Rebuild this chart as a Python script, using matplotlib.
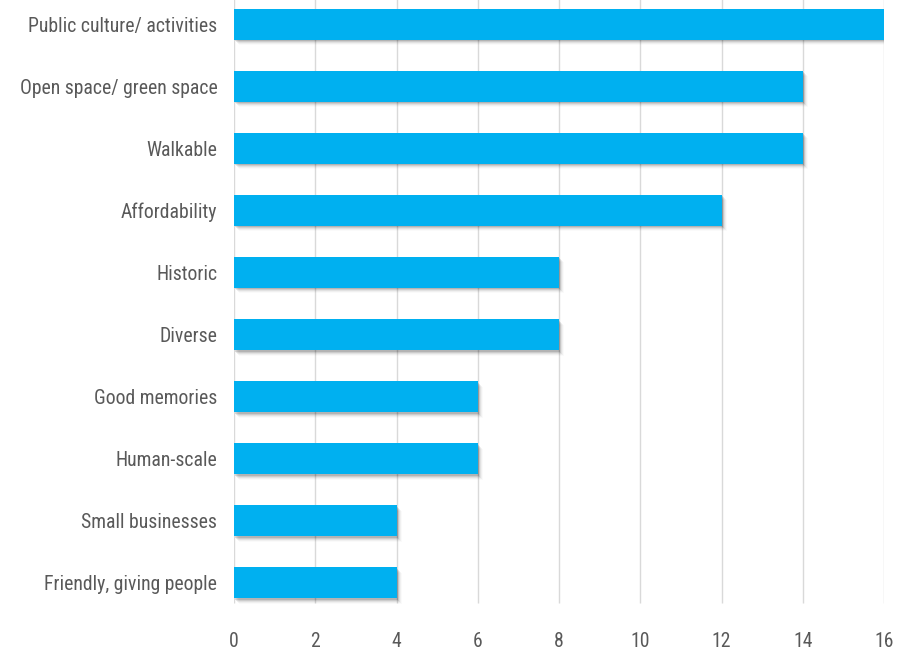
import matplotlib
matplotlib.use("Agg")
import matplotlib.pyplot as plt
from matplotlib import font_manager
import matplotlib.transforms as mtransforms

# データ
categories = ["Public culture/ activities", "Open space/ green space", "Walkable",
              "Affordability", "Historic", "Diverse", "Good memories",
              "Human-scale", "Small businesses", "Friendly, giving people"]
values = [16, 14, 14, 12, 8, 8, 6, 6, 4, 4]
xticks = [0, 2, 4, 6, 8, 10, 12, 14, 16]

# 細めのフォントがあれば使う
names = {f.name for f in font_manager.fontManager.ttflist}
fam = ["Liberation Sans", "DejaVu Sans"]
fsize = 13
for cand in ["Liberation Sans Narrow", "Roboto Condensed", "Open Sans Condensed"]:
    if cand in names:
        fam = [cand, "DejaVu Sans"]
        fsize = 14.2
        break
plt.rcParams["font.family"] = fam

fig = plt.figure(figsize=(8.98, 6.54), dpi=100)
ax = fig.add_axes([234 / 898, 40 / 654, 650 / 898, 621 / 654])

pos = list(range(len(categories)))
h = 0.5
n = len(categories)

# グリッド（下端は少し短め）
ax.vlines(xticks, -0.5, n - 0.68, color="#D9D9D9", linewidth=1, zorder=0)

# 影（ぼかし風に数枚重ねる）
for i, a in enumerate([0.12, 0.09, 0.06, 0.04, 0.02]):
    off = mtransforms.offset_copy(ax.transData, fig=fig, x=1 + i, y=-(1.5 + i), units="dots")
    ax.barh(pos, values, height=h, color="#000000", alpha=a, transform=off, zorder=2, linewidth=0)

ax.barh(pos, values, height=h, color="#00B0F0", zorder=3, linewidth=0)

ax.set_ylim(n - 0.5, -0.5)
ax.set_xlim(0, 16)
ax.set_yticks(pos)
ax.set_yticklabels(categories)
ax.set_xticks(xticks)
ax.tick_params(axis="both", length=0, colors="#595959", labelsize=fsize)
ax.tick_params(axis="y", pad=12)
ax.tick_params(axis="x", pad=13)
for s in ax.spines.values():
    s.set_visible(False)

fig.savefig("out.png", dpi=100)
